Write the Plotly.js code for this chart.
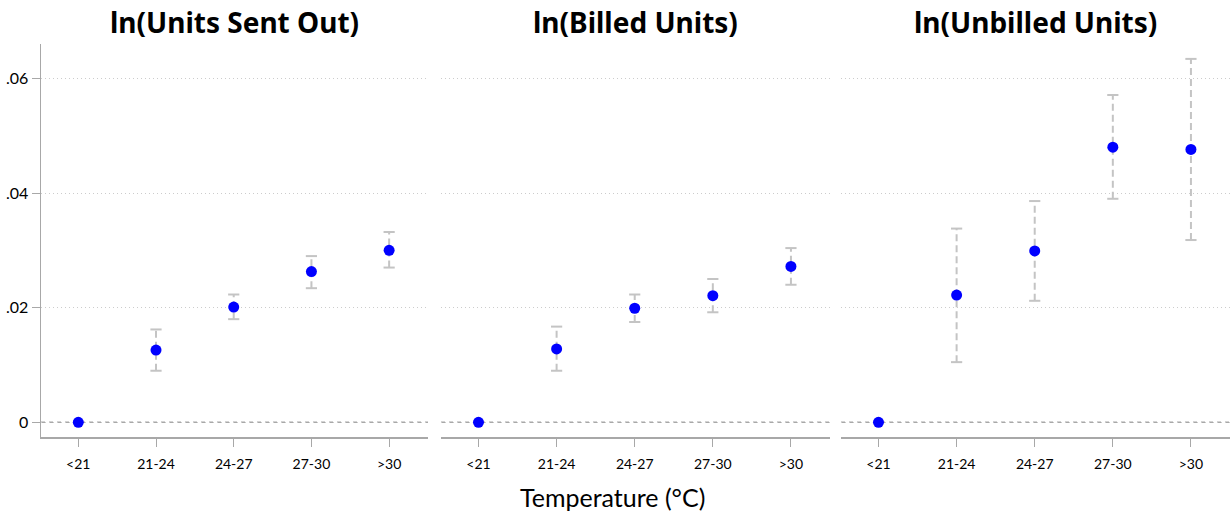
<!DOCTYPE html>
<html>
<head>
<meta charset="utf-8">
<script src="https://cdn.plot.ly/plotly-3.0.1.min.js"></script>
<style>html,body{margin:0;padding:0;background:#fff;} #chart{width:1231px;height:516px;}</style>
</head>
<body>
<div id="chart"></div>
<script>
// ---- data ----
const categories = ['<21', '21-24', '24-27', '27-30', '>30'];
const panelTitles = ['ln(Units Sent Out)', 'ln(Billed Units)', 'ln(Unbilled Units)'];

const sentCoef = [0, 0.0126, 0.0201, 0.0263, 0.0300];
const sentLo   = [null, 0.0090, 0.0180, 0.0234, 0.0270];
const sentHi   = [null, 0.0162, 0.0223, 0.0290, 0.0332];

const billedCoef = [0, 0.0128, 0.0199, 0.0221, 0.0272];
const billedLo   = [null, 0.0090, 0.0175, 0.0192, 0.0240];
const billedHi   = [null, 0.0167, 0.0223, 0.0250, 0.0304];

const unbilledCoef = [0, 0.0222, 0.0299, 0.0480, 0.0476];
const unbilledLo   = [null, 0.0105, 0.0212, 0.0390, 0.0318];
const unbilledHi   = [null, 0.0338, 0.0386, 0.0571, 0.0634];

const yTickVals = [0, 0.02, 0.04, 0.06];
const yTickText = ['0', '.02', '.04', '.06'];
const xTitle = 'Temperature (°C)';

// ---- build ----
const FONT = 'Lato, "Noto Sans", sans-serif';
const TFONT = '"Noto Sans", Lato, sans-serif';
const ERR = '#c4c4c4';
const AXIS = '#a8a8a8';
const panels = [
  {coef: sentCoef, lo: sentLo, hi: sentHi},
  {coef: billedCoef, lo: billedLo, hi: billedHi},
  {coef: unbilledCoef, lo: unbilledLo, hi: unbilledHi}
];
const W = 1189;
const domains = [[0, 387 / W], [400 / W, 789 / W], [800 / W, 1]];
const yRange = [-0.00256, 0.066];

const traces = [];
const layout = {
  width: 1231, height: 516,
  margin: {l: 41, r: 1, t: 44, b: 79},
  paper_bgcolor: '#fff', plot_bgcolor: '#fff',
  showlegend: false,
  font: {family: FONT, color: '#000'},
  shapes: [], annotations: []
};

panels.forEach((p, k) => {
  const sfx = k === 0 ? '' : String(k + 1);
  const xa = 'x' + sfx, ya = 'y' + sfx;
  const ex = [], ey = [], cx = [], cy = [];
  categories.forEach((c, i) => {
    if (p.lo[i] !== null) {
      ex.push(c, c, null); ey.push(p.lo[i], p.hi[i], null);
      cx.push(c, c); cy.push(p.lo[i], p.hi[i]);
    }
  });
  traces.push({x: ex, y: ey, xaxis: xa, yaxis: ya, type: 'scatter', mode: 'lines',
    line: {color: ERR, width: 2, dash: '7px,4px'}, hoverinfo: 'skip'});
  traces.push({x: cx, y: cy, xaxis: xa, yaxis: ya, type: 'scatter', mode: 'markers',
    marker: {symbol: 'line-ew', size: 8, line: {color: ERR, width: 2}}, hoverinfo: 'skip'});
  traces.push({x: categories, y: p.coef, xaxis: xa, yaxis: ya, type: 'scatter', mode: 'markers',
    marker: {color: '#0000ff', size: 11, line: {width: 0}}});

  layout['xaxis' + sfx] = {
    domain: domains[k], anchor: ya, type: 'category',
    categoryorder: 'array', categoryarray: categories,
    range: [-0.48, 4.5],
    showline: true, linecolor: AXIS, linewidth: 1.5,
    ticks: 'outside', ticklen: 8, tickwidth: 1, tickcolor: AXIS,
    ticklabelstandoff: 6,
    showgrid: false, zeroline: false,
    tickfont: {family: FONT, size: 14, color: '#000'}
  };
  layout['yaxis' + sfx] = {
    domain: [0, 1], anchor: xa, range: yRange,
    tickvals: yTickVals, ticktext: yTickText,
    showticklabels: k === 0,
    showline: k === 0, linecolor: AXIS, linewidth: 1.5,
    ticks: k === 0 ? 'outside' : '', ticklen: 8, tickwidth: 1, tickcolor: AXIS,
    showgrid: true, gridcolor: '#cccccc', gridwidth: 1, griddash: '1px,3px',
    zeroline: false,
    tickfont: {family: FONT, size: 16, color: '#000'}
  };
  layout.shapes.push({type: 'line', xref: xa + ' domain', yref: ya,
    x0: 0, x1: 1, y0: 0, y1: 0, layer: 'below',
    line: {color: '#a8a8a8', width: 1.5, dash: '4px,4px'}});
  layout.annotations.push({text: '<b>' + panelTitles[k] + '</b>',
    xref: 'paper', yref: 'paper', x: (domains[k][0] + domains[k][1]) / 2,
    y: 1 + 22 / 393, xanchor: 'center', yanchor: 'middle', showarrow: false,
    font: {family: TFONT, size: 28, color: '#000'}});
});

layout.annotations.push({text: xTitle, xref: 'paper', yref: 'paper',
  x: (612 - 41) / W, y: -(497 - 437) / 393, xanchor: 'center', yanchor: 'middle',
  showarrow: false, font: {family: FONT, size: 25, color: '#000'}});

Plotly.newPlot('chart', traces, layout, {staticPlot: true, displayModeBar: false});
</script>
</body>
</html>
